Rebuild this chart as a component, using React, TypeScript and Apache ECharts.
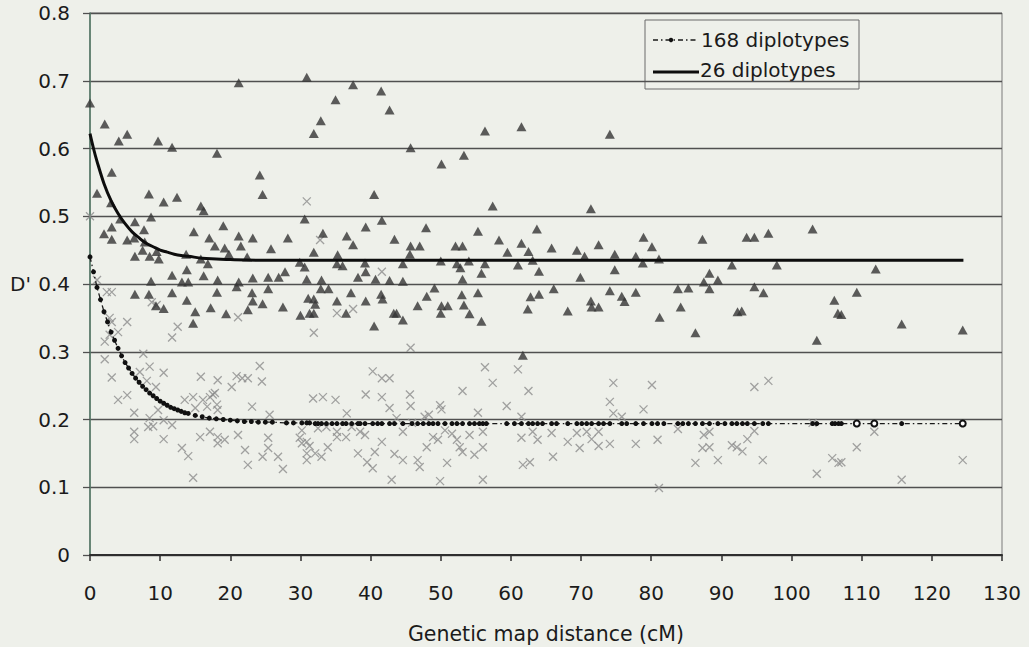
import React, { useEffect, useRef } from "react";
import * as echarts from "echarts";

// Axis ranges and labels
const xMin = 0;
const xMax = 130;
const xStep = 10;
const yMin = 0;
const yMax = 0.8;
const yStep = 0.1;
const xTitle = "Genetic map distance (cM)";
const yTitle = "D'";
const legendLabels = ["168 diplotypes", "26 diplotypes"];

// Observed D' values, 26 diplotypes (triangles): [distance cM, D']
const tri26: [number, number][] = [
  [0, 0.667], [1.0, 0.534], [2.0, 0.474], [2.1, 0.636], [3.0, 0.52], [3.1, 0.565], [3.1, 0.484], [3.1, 0.466],
  [4.1, 0.611], [4.3, 0.496], [5.3, 0.621], [5.3, 0.465], [6.3, 0.468], [6.4, 0.492], [6.4, 0.441], [6.4, 0.385],
  [7.5, 0.45], [7.7, 0.48], [7.8, 0.462], [8.4, 0.533], [8.4, 0.385], [8.5, 0.441], [8.7, 0.499], [8.7, 0.404],
  [9.4, 0.368], [9.5, 0.448], [9.7, 0.611], [9.8, 0.437], [10.5, 0.521], [10.5, 0.364], [11.7, 0.602], [11.7, 0.413],
  [11.7, 0.387], [12.4, 0.528], [13.1, 0.403], [13.7, 0.444], [13.8, 0.421], [13.8, 0.376], [14.0, 0.403], [14.7, 0.342],
  [14.8, 0.477], [15.0, 0.359], [15.8, 0.515], [15.8, 0.437], [16.2, 0.508], [16.2, 0.412], [16.8, 0.43], [17.0, 0.468],
  [17.2, 0.365], [17.8, 0.456], [18.1, 0.593], [18.1, 0.388], [18.2, 0.406], [19.0, 0.486], [19.2, 0.453], [19.4, 0.356],
  [19.8, 0.444], [20.9, 0.396], [21.2, 0.697], [21.2, 0.471], [21.2, 0.403], [21.5, 0.456], [22.4, 0.44], [22.5, 0.362],
  [23.1, 0.387], [23.2, 0.468], [23.2, 0.409], [23.2, 0.375], [24.2, 0.561], [24.6, 0.532], [24.6, 0.371], [25.4, 0.41],
  [25.4, 0.393], [25.8, 0.452], [26.9, 0.41], [27.5, 0.366], [27.8, 0.418], [28.2, 0.468], [29.9, 0.432], [30.0, 0.354],
  [30.6, 0.496], [30.6, 0.425], [30.9, 0.705], [30.9, 0.407], [31.1, 0.379], [31.3, 0.357], [31.9, 0.622], [31.9, 0.447],
  [31.9, 0.378], [31.9, 0.357], [32.1, 0.37], [32.9, 0.641], [32.9, 0.393], [33.0, 0.406], [33.2, 0.475], [34.0, 0.393],
  [35.0, 0.672], [35.2, 0.43], [35.2, 0.375], [35.3, 0.443], [36.0, 0.427], [36.5, 0.357], [36.6, 0.471], [37.2, 0.387],
  [37.5, 0.694], [37.5, 0.458], [38.2, 0.41], [39.2, 0.431], [39.3, 0.484], [39.3, 0.418], [39.3, 0.375], [40.5, 0.532],
  [40.5, 0.338], [40.7, 0.407], [41.5, 0.685], [41.5, 0.385], [41.6, 0.494], [41.7, 0.378], [42.7, 0.657], [42.7, 0.405],
  [43.3, 0.357], [43.4, 0.466], [43.7, 0.357], [44.6, 0.43], [44.6, 0.404], [44.6, 0.347], [45.6, 0.444], [45.7, 0.601],
  [45.7, 0.456], [46.7, 0.368], [47.0, 0.456], [47.9, 0.483], [48.0, 0.382], [49.1, 0.394], [50.0, 0.434], [50.0, 0.357],
  [50.1, 0.577], [50.1, 0.368], [51.0, 0.368], [52.1, 0.456], [52.3, 0.43], [52.8, 0.424], [53.0, 0.384], [53.1, 0.456],
  [53.1, 0.407], [53.3, 0.59], [53.3, 0.369], [54.0, 0.434], [54.1, 0.356], [55.3, 0.478], [55.3, 0.387], [55.8, 0.416],
  [55.8, 0.345], [56.3, 0.626], [56.3, 0.43], [57.4, 0.515], [58.3, 0.465], [59.5, 0.447], [61.0, 0.428], [61.5, 0.632],
  [61.5, 0.46], [61.7, 0.295], [62.4, 0.363], [62.5, 0.448], [62.8, 0.381], [63.1, 0.435], [63.7, 0.481], [64.0, 0.419],
  [64.0, 0.385], [65.8, 0.453], [66.1, 0.393], [68.1, 0.36], [69.4, 0.45], [69.9, 0.41], [70.5, 0.441], [71.4, 0.511],
  [71.4, 0.375], [71.5, 0.366], [72.5, 0.458], [72.5, 0.366], [74.1, 0.621], [74.1, 0.39], [74.8, 0.444], [74.8, 0.421],
  [75.8, 0.382], [76.2, 0.374], [77.8, 0.441], [77.8, 0.388], [78.8, 0.431], [78.9, 0.469], [80.1, 0.455], [81.1, 0.437],
  [81.2, 0.351], [83.8, 0.393], [84.2, 0.366], [85.3, 0.394], [86.3, 0.328], [87.3, 0.466], [87.5, 0.403], [88.3, 0.416],
  [88.3, 0.393], [89.5, 0.406], [91.5, 0.428], [92.3, 0.359], [92.9, 0.36], [93.6, 0.469], [94.7, 0.469], [94.7, 0.396],
  [96.0, 0.387], [96.7, 0.475], [97.9, 0.428], [103.0, 0.481], [103.6, 0.317], [106.1, 0.376], [106.6, 0.357],
  [107.1, 0.355], [109.3, 0.388], [112.0, 0.422], [115.7, 0.341], [124.4, 0.332],
];

// Observed D' values, 168 diplotypes (crosses): [distance cM, D']
const cross168: [number, number][] = [
  [0, 0.5], [1, 0.406], [2.1, 0.315], [2.1, 0.289], [2.4, 0.388], [2.8, 0.35], [2.8, 0.325], [3.1, 0.388], [3.1, 0.344],
  [3.1, 0.262], [4, 0.329], [4, 0.229], [5.3, 0.344], [5.3, 0.236], [6.3, 0.21], [6.3, 0.182], [6.3, 0.171], [7.1, 0.27],
  [7.6, 0.297], [8.1, 0.257], [8.3, 0.189], [8.5, 0.278], [8.5, 0.202], [8.8, 0.373], [9, 0.19], [9.4, 0.248], [9.5, 0.369],
  [9.7, 0.214], [10.5, 0.269], [10.5, 0.199], [10.5, 0.171], [11.7, 0.321], [11.7, 0.192], [12.5, 0.337], [13.1, 0.158],
  [13.5, 0.229], [14, 0.146], [14.7, 0.233], [14.7, 0.114], [15, 0.217], [15.7, 0.174], [15.8, 0.263], [16.1, 0.229],
  [16.7, 0.219], [17.1, 0.233], [17.1, 0.182], [17.5, 0.237], [17.8, 0.239], [18.1, 0.222], [18.2, 0.258], [18.2, 0.214],
  [18.2, 0.174], [18.2, 0.165], [19.2, 0.17], [20.2, 0.248], [20.9, 0.264], [21.1, 0.351], [21.1, 0.177], [21.7, 0.261],
  [22.1, 0.155], [22.5, 0.261], [22.5, 0.133], [23.1, 0.219], [24.2, 0.279], [24.5, 0.256], [24.6, 0.145], [25.4, 0.173],
  [25.4, 0.158], [25.6, 0.207], [26.8, 0.145], [27.5, 0.127], [29.9, 0.173], [30.2, 0.184], [30.2, 0.165], [30.9, 0.522],
  [30.9, 0.167], [30.9, 0.15], [30.9, 0.14], [31.3, 0.161], [31.8, 0.231], [31.9, 0.328], [32.1, 0.15], [32.5, 0.187],
  [32.8, 0.465], [33, 0.145], [33.2, 0.233], [33.7, 0.189], [33.9, 0.159], [35, 0.229], [35.2, 0.357], [35.2, 0.182],
  [35.2, 0.174], [36.5, 0.174], [36.6, 0.209], [37.3, 0.189], [37.5, 0.363], [38.2, 0.15], [38.5, 0.182], [39.2, 0.177],
  [39.3, 0.237], [39.5, 0.137], [40.3, 0.271], [40.3, 0.128], [40.6, 0.152], [41.6, 0.418], [41.6, 0.261], [41.6, 0.233],
  [41.6, 0.167], [42.7, 0.261], [42.7, 0.217], [43, 0.111], [43.4, 0.149], [43.7, 0.202], [44.6, 0.182], [44.6, 0.14],
  [45.6, 0.237], [45.7, 0.306], [45.7, 0.22], [45.9, 0.195], [46.7, 0.14], [47, 0.13], [47.7, 0.204], [48, 0.159],
  [48.3, 0.207], [48.9, 0.174], [49.6, 0.17], [49.9, 0.221], [49.9, 0.109], [50.1, 0.215], [50.6, 0.184], [50.9, 0.136],
  [51.6, 0.179], [52.3, 0.17], [52.7, 0.159], [53.1, 0.242], [53.1, 0.152], [54.1, 0.177], [54.8, 0.148], [55.3, 0.21],
  [56, 0.182], [56, 0.159], [56, 0.111], [56.3, 0.277], [57.4, 0.254], [59.4, 0.22], [61, 0.274], [61.5, 0.204],
  [61.5, 0.173], [61.7, 0.133], [62.5, 0.242], [62.7, 0.137], [63.1, 0.182], [63.8, 0.17], [65.8, 0.18], [66, 0.145],
  [68.1, 0.167], [69.4, 0.18], [69.8, 0.158], [70.8, 0.182], [71.5, 0.171], [72.5, 0.182], [72.5, 0.161], [74.1, 0.226],
  [74.1, 0.164], [74.6, 0.254], [74.6, 0.209], [75.8, 0.204], [77.8, 0.164], [78.9, 0.215], [80.1, 0.251], [80.9, 0.17],
  [81.1, 0.099], [83.8, 0.186], [86.3, 0.136], [87.3, 0.158], [87.5, 0.177], [88.3, 0.182], [88.3, 0.159], [89.5, 0.14],
  [91.5, 0.162], [92.2, 0.159], [93, 0.153], [93.7, 0.171], [94.7, 0.248], [94.7, 0.183], [95.9, 0.14], [96.7, 0.257],
  [103, 0.195], [103.6, 0.12], [105.8, 0.143], [106.7, 0.136], [107.1, 0.137], [109.3, 0.159], [111.8, 0.182],
  [115.7, 0.111], [124.4, 0.14],
];

// Fitted decay curve, 26 diplotypes
const fit26: [number, number][] = [
  [0, 0.622], [0.5, 0.6], [1, 0.581], [2, 0.548], [3, 0.523], [4, 0.504], [5, 0.489], [6, 0.477], [7, 0.468],
  [8, 0.46], [9, 0.455], [10, 0.45], [11, 0.447], [12, 0.444], [13, 0.442], [14, 0.441], [16, 0.438], [18, 0.437],
  [20, 0.436], [25, 0.435], [124.5, 0.435],
];

// Fitted decay curve, 168 diplotypes (one dot per marker pair distance)
const fit168: [number, number][] = [
  [0, 0.44], [0.5, 0.418], [1, 0.395], [1.5, 0.377], [2, 0.359], [2.5, 0.344], [3, 0.329], [3.5, 0.317], [4, 0.305],
  [4.5, 0.294], [5, 0.284], [5.5, 0.276], [6, 0.268], [6.5, 0.261], [7, 0.255], [7.5, 0.249], [8, 0.244], [8.5, 0.239],
  [9, 0.235], [9.5, 0.231], [10, 0.227], [10.5, 0.224], [11, 0.221], [11.5, 0.218], [12, 0.216], [12.5, 0.214],
  [13, 0.212], [13.5, 0.21], [14, 0.209], [15, 0.206], [16, 0.204], [17, 0.202], [18, 0.201], [19, 0.2], [20, 0.199],
  [21, 0.198], [22, 0.197], [23, 0.197], [24, 0.196], [25, 0.196], [26, 0.196], [28, 0.195], [29, 0.195], [30.2, 0.195],
  [30.9, 0.195], [31.3, 0.195], [32.1, 0.194], [32.5, 0.194], [33, 0.194], [33.7, 0.194], [34.5, 0.194], [35.2, 0.194],
  [36, 0.194], [36.5, 0.194], [37.3, 0.194], [38.2, 0.194], [38.5, 0.194], [39.2, 0.194], [40.3, 0.194], [41, 0.194],
  [41.6, 0.194], [42.7, 0.194], [43.4, 0.194], [44.6, 0.194], [45.9, 0.194], [46.7, 0.194], [47.5, 0.194], [48.3, 0.194],
  [48.9, 0.194], [49.6, 0.194], [50.6, 0.194], [51.6, 0.194], [52.3, 0.194], [53.1, 0.194], [54.1, 0.194], [54.8, 0.194],
  [55.5, 0.194], [56, 0.194], [56.5, 0.194], [59.4, 0.194], [60.5, 0.194], [61.5, 0.194], [62.5, 0.194], [63.1, 0.194],
  [63.8, 0.194], [64.5, 0.194], [65.8, 0.194], [66.5, 0.194], [68.1, 0.194], [69.4, 0.194], [70.1, 0.194], [70.8, 0.194],
  [71.5, 0.194], [72.5, 0.194], [73.2, 0.194], [74.1, 0.194], [75.8, 0.194], [76.5, 0.194], [77.8, 0.194], [78.9, 0.194],
  [80.1, 0.194], [80.9, 0.194], [81.8, 0.194], [83.8, 0.194], [84.5, 0.194], [85.3, 0.194], [86.3, 0.194], [87.3, 0.194],
  [88.3, 0.194], [89.5, 0.194], [90.5, 0.194], [91.5, 0.194], [92.2, 0.194], [93, 0.194], [93.7, 0.194], [94.7, 0.194],
  [95.9, 0.194], [96.7, 0.194], [103, 0.194], [103.6, 0.194], [105.8, 0.194], [106.2, 0.194], [106.7, 0.194],
  [107.1, 0.194], [109.3, 0.194], [111.8, 0.194], [115.7, 0.194], [124.4, 0.194],
];

// Distances whose fitted point is drawn as an open circle
const openDots = [109.3, 111.8, 124.4];

const BG = "#eef0ea";
const FONT = "DejaVu Sans, Liberation Sans, Arial, sans-serif";
const INK = "#1b1b1b";

export default function App() {
  const ref = useRef<HTMLDivElement>(null);

  useEffect(() => {
    if (!ref.current) return;
    const chart = echarts.init(ref.current, undefined, { renderer: "svg" });

    const dots168 = fit168.map(([x, y]) =>
      openDots.includes(x)
        ? { value: [x, y], symbol: "emptyCircle", symbolSize: 6, itemStyle: { color: "#111", borderWidth: 1.4 } }
        : { value: [x, y] }
    );

    chart.setOption({
      animation: false,
      backgroundColor: BG,
      textStyle: { fontFamily: FONT },
      grid: {
        left: 90,
        right: 27,
        top: 13,
        bottom: 92,
        show: true,
        borderColor: "#7a7a7a",
        borderWidth: 1,
        backgroundColor: "transparent",
      },
      xAxis: {
        type: "value",
        min: xMin,
        max: xMax,
        interval: xStep,
        axisLine: { show: true, lineStyle: { color: "#2e2e2e", width: 2 } },
        axisTick: { show: true, length: 6, lineStyle: { color: "#2e2e2e", width: 1.5 } },
        axisLabel: { color: INK, fontSize: 20, fontFamily: FONT, margin: 28 },
        splitLine: { show: false },
      },
      yAxis: {
        type: "value",
        min: yMin,
        max: yMax,
        interval: yStep,
        axisLine: { show: true, lineStyle: { color: "#557a68", width: 1.6 } },
        axisTick: { show: true, length: 7, lineStyle: { color: "#505050", width: 1.3 } },
        axisLabel: {
          color: INK,
          fontSize: 20,
          fontFamily: FONT,
          margin: 20,
          formatter: (v: number) => (v === 0 ? "0" : v.toFixed(1)),
        },
        splitLine: { show: true, lineStyle: { color: "#505050", width: 1.3 } },
      },
      series: [
        {
          name: "168 points",
          type: "scatter",
          data: cross168,
          symbol: "path://M0,0L10,10M10,0L0,10",
          symbolSize: 8,
          itemStyle: { color: "none", borderColor: "#8c8c8c", borderWidth: 1.3 },
          z: 2,
        },
        {
          name: "26 points",
          type: "scatter",
          data: tri26,
          symbol: "triangle",
          symbolSize: [10, 9],
          itemStyle: { color: "#353535" },
          z: 3,
        },
        {
          name: legendLabels[1],
          type: "line",
          data: fit26,
          smooth: 0.35,
          showSymbol: false,
          lineStyle: { color: "#0d0d0d", width: 3 },
          z: 5,
        },
        {
          name: legendLabels[0],
          type: "line",
          data: dots168,
          symbol: "circle",
          symbolSize: 5,
          showAllSymbol: true,
          itemStyle: { color: "#111" },
          lineStyle: { color: "#1a1a1a", width: 1.3, type: [5, 3, 1.5, 3] },
          z: 4,
        },
      ],
      graphic: [
        {
          type: "text",
          left: 10,
          top: 274,
          style: { text: yTitle, fill: INK, font: `20px ${FONT}` },
        },
        {
          type: "text",
          x: 546,
          y: 634,
          style: {
            text: xTitle,
            fill: INK,
            font: `20.5px ${FONT}`,
            align: "center",
            verticalAlign: "middle",
          },
        },
        {
          type: "group",
          z: 100,
          children: [
            {
              type: "rect",
              shape: { x: 645, y: 20, width: 214, height: 69 },
              style: { fill: BG, stroke: "#6a6a6a", lineWidth: 1 },
            },
            {
              type: "line",
              shape: { x1: 653, y1: 40, x2: 696, y2: 40 },
              style: { stroke: "#1a1a1a", lineWidth: 1.3, lineDash: [5, 3, 1.5, 3] },
            },
            {
              type: "circle",
              shape: { cx: 671, cy: 40, r: 2.2 },
              style: { fill: "#111" },
            },
            {
              type: "text",
              x: 701,
              y: 40,
              style: { text: legendLabels[0], fill: INK, font: `20px ${FONT}`, verticalAlign: "middle" },
            },
            {
              type: "line",
              shape: { x1: 653, y1: 72, x2: 699, y2: 72 },
              style: { stroke: "#0d0d0d", lineWidth: 3 },
            },
            {
              type: "text",
              x: 700,
              y: 70,
              style: { text: legendLabels[1], fill: INK, font: `20px ${FONT}`, verticalAlign: "middle" },
            },
          ],
        },
      ],
    });

    return () => chart.dispose();
  }, []);

  return (
    <div
      ref={ref}
      style={{ position: "absolute", left: 0, top: 0, width: 1029, height: 647, background: BG }}
    />
  );
}
